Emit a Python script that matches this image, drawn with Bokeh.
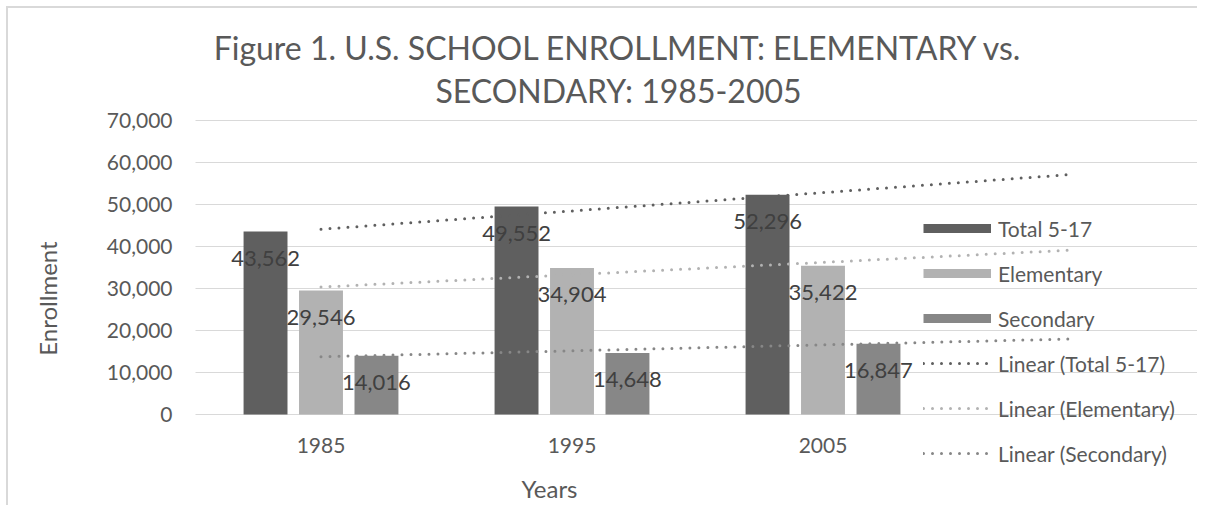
import numpy as np
from bokeh.plotting import figure
from bokeh.models import (Range1d, FixedTicker, NumeralTickFormatter, Legend,
                          LegendItem, Label, ColumnDataSource)
from bokeh.transform import dodge
from bokeh.core.properties import value
from bokeh.embed import file_html
from bokeh.resources import INLINE

# ---- data ----
years = ["1985", "1995", "2005"]
total = [43562, 49552, 52296]
elementary = [29546, 34904, 35422]
secondary = [14016, 14648, 16847]
series_names = ["Total 5-17", "Elementary", "Secondary"]
colors = ["#5f5f5f", "#b2b2b2", "#878787"]
y_ticks = [0, 10000, 20000, 30000, 40000, 50000, 60000, 70000]

FONT = "Lato"
TXT = "#595959"
GRID = "#d9d9d9"

# ---- layout helpers (page pixels -> data units) ----
W, H = 1191, 499          # canvas, placed at page (8, 8)
X0_PAGE, UNIT_PX = 320.5, 251.0     # centre of first category, px per category
Y0_PAGE, PX_PER_VAL = 414.0, 0.0042  # baseline of value axis, px per unit


def u(px):
    return 1 + (px - X0_PAGE) / UNIT_PX


def v(py):
    return (Y0_PAGE - py) / PX_PER_VAL


xs = [1, 2, 3]
src = ColumnDataSource(dict(
    x=xs, total=total, elementary=elementary, secondary=secondary,
    total_lbl=[f"{val:,}" for val in total],
    elementary_lbl=[f"{val:,}" for val in elementary],
    secondary_lbl=[f"{val:,}" for val in secondary],
))

p = figure(width=W, height=H, output_backend="svg", toolbar_location=None,
           x_range=Range1d(u(8), u(8 + W)), y_range=Range1d(v(8 + H), v(8)),
           min_border=0, min_border_left=0, min_border_right=0,
           min_border_top=0, min_border_bottom=0)
p.styles = {"margin-left": "6px", "margin-top": "6px",
            "border-left": "2px solid #d9d9d9", "border-top": "2px solid #d9d9d9"}
p.outline_line_color = None
p.background_fill_color = "white"
p.border_fill_color = "white"

# axes (placed inside the frame at fixed locations)
p.xaxis.fixed_location = 0
p.xaxis.bounds = (0.5, 2 * u(549) - 0.5)
p.xaxis.ticker = FixedTicker(ticks=xs)
p.xaxis.major_label_overrides = {x: y for x, y in zip(xs, years)}
p.xaxis.major_tick_line_color = None
p.xaxis.minor_tick_line_color = None
p.xaxis.axis_line_color = None
p.xaxis.major_label_text_font = FONT
p.xaxis.major_label_text_font_size = "21px"
p.xaxis.major_label_text_color = TXT
p.xaxis.major_label_standoff = 17
p.xaxis.axis_label = "Years"
p.xaxis.axis_label_text_font = FONT
p.xaxis.axis_label_text_font_size = "24px"
p.xaxis.axis_label_text_font_style = "normal"
p.xaxis.axis_label_text_color = TXT
p.xaxis.axis_label_standoff = 18

p.yaxis.fixed_location = 0.5
p.yaxis.bounds = (2 * v(298) - 70000, 70000)
p.yaxis.ticker = FixedTicker(ticks=y_ticks)
p.yaxis.formatter = NumeralTickFormatter(format="0,0")
p.yaxis.major_tick_line_color = None
p.yaxis.minor_tick_line_color = None
p.yaxis.axis_line_color = None
p.yaxis.major_label_text_font = FONT
p.yaxis.major_label_text_font_size = "21px"
p.yaxis.major_label_text_color = TXT
p.yaxis.major_label_standoff = 17
p.yaxis.axis_label = "Enrollment"
p.yaxis.axis_label_text_font = FONT
p.yaxis.axis_label_text_font_size = "24px"
p.yaxis.axis_label_text_font_style = "normal"
p.yaxis.axis_label_text_color = TXT
p.yaxis.axis_label_standoff = 42

p.xgrid.visible = False
p.ygrid.ticker = FixedTicker(ticks=y_ticks)
p.ygrid.bounds = (0, 70000)
p.ygrid.cross_bounds = (0.5, 4.5)
p.ygrid.grid_line_color = GRID
p.ygrid.grid_line_width = 1

# bars
offsets = [-0.221, 0.0, 0.221]
cols = ["total", "elementary", "secondary"]
for col, off, c in zip(cols, offsets, colors):
    p.vbar(x=dodge("x", off), top=col, width=0.175, source=src,
           fill_color=c, line_color=None)

# trendlines (linear fit, forecast one period forward)
trend_renderers = []
for vals, c in zip([total, elementary, secondary], colors):
    coef = np.polyfit(xs, vals, 1)
    tx = [1, 4]
    ty = list(np.polyval(coef, tx))
    r = p.line(tx, ty, line_color=c, line_width=3, line_dash="0 9",
               line_cap="round")
    trend_renderers.append(r)

# data labels (inside end)
for col, off in zip(cols, offsets):
    p.text(x=dodge("x", off), y=col, text=col + "_lbl", source=src,
           text_align="center", text_baseline="middle", y_offset=27,
           text_font=value(FONT), text_font_size="22px", text_color="#404040")

# legend swatches for bars (renderers with no visible data)
swatch_renderers = []
for c in colors:
    r = p.line(x=[np.nan], y=[np.nan], line_color=c, line_width=9, line_cap="butt")
    swatch_renderers.append(r)

items = [LegendItem(label=n, renderers=[r]) for n, r in zip(series_names, swatch_renderers)]
items += [LegendItem(label=f"Linear ({n})", renderers=[r])
          for n, r in zip(series_names, trend_renderers)]
legend = Legend(items=items, location=(923 - 8, 8 + H - 475), glyph_width=68,
                glyph_height=44, label_height=44, spacing=1, padding=0, margin=0,
                label_standoff=7, border_line_alpha=0, background_fill_alpha=0,
                label_text_font=FONT, label_text_font_size="21px",
                label_text_color=TXT)
p.add_layout(legend)

# chart title (two lines)
for txt, base in [("Figure 1. U.S. SCHOOL ENROLLMENT: ELEMENTARY vs.", 47),
                  ("SECONDARY: 1985-2005", 90)]:
    p.add_layout(Label(x=u(618), y=v(base), text=txt,
                       text_font=FONT, text_font_size="32px", text_color=TXT,
                       text_align="center", text_baseline="alphabetic"))

open("out.html", "w").write(file_html(p, INLINE))
